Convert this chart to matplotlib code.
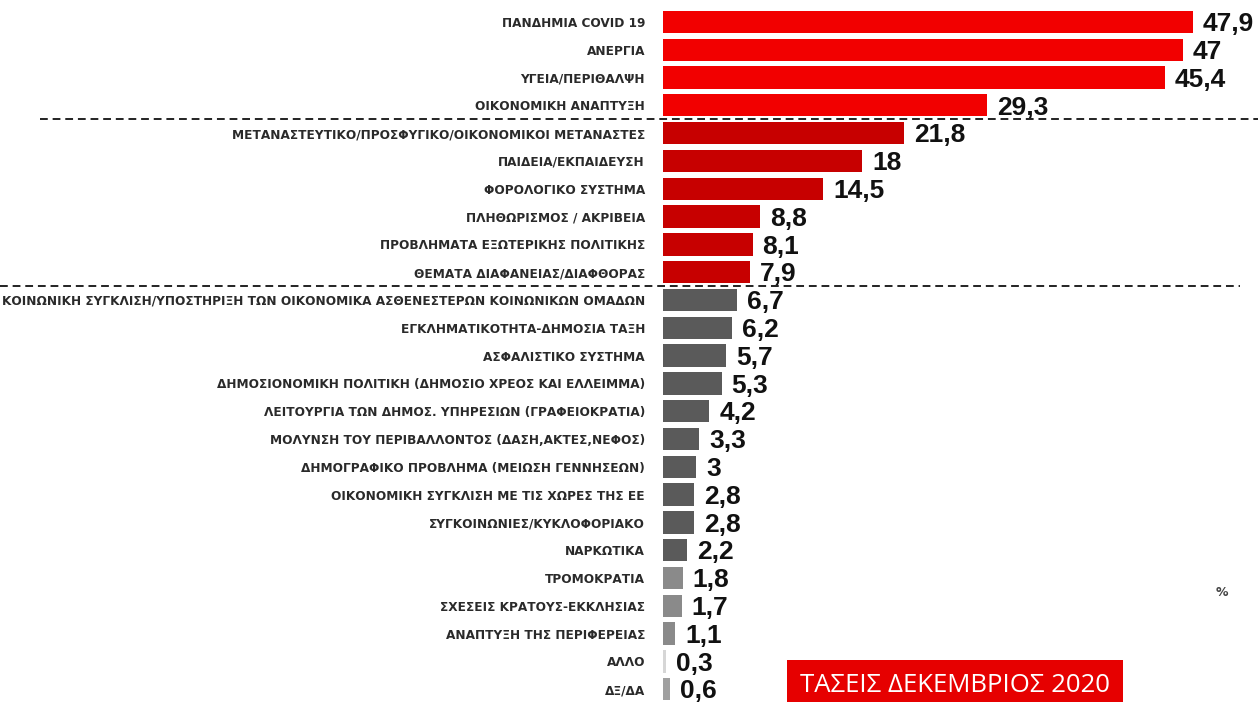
import matplotlib.pyplot as plt
import matplotlib.transforms as mtransforms
from matplotlib.lines import Line2D

topics = [
    'ΠΑΝΔΗΜΙΑ COVID 19',
    'ΑΝΕΡΓΙΑ',
    'ΥΓΕΙΑ/ΠΕΡΙΘΑΛΨΗ',
    'ΟΙΚΟΝΟΜΙΚΗ ΑΝΑΠΤΥΞΗ',
    'ΜΕΤΑΝΑΣΤΕΥΤΙΚΟ/ΠΡΟΣΦΥΓΙΚΟ/ΟΙΚΟΝΟΜΙΚΟΙ ΜΕΤΑΝΑΣΤΕΣ',
    'ΠΑΙΔΕΙΑ/ΕΚΠΑΙΔΕΥΣΗ',
    'ΦΟΡΟΛΟΓΙΚΟ ΣΥΣΤΗΜΑ',
    'ΠΛΗΘΩΡΙΣΜΟΣ / ΑΚΡΙΒΕΙΑ',
    'ΠΡΟΒΛΗΜΑΤΑ ΕΞΩΤΕΡΙΚΗΣ ΠΟΛΙΤΙΚΗΣ',
    'ΘΕΜΑΤΑ ΔΙΑΦΑΝΕΙΑΣ/ΔΙΑΦΘΟΡΑΣ',
    'ΚΟΙΝΩΝΙΚΗ ΣΥΓΚΛΙΣΗ/ΥΠΟΣΤΗΡΙΞΗ ΤΩΝ ΟΙΚΟΝΟΜΙΚΑ ΑΣΘΕΝΕΣΤΕΡΩΝ ΚΟΙΝΩΝΙΚΩΝ ΟΜΑΔΩΝ',
    'ΕΓΚΛΗΜΑΤΙΚΟΤΗΤΑ-ΔΗΜΟΣΙΑ ΤΑΞΗ',
    'ΑΣΦΑΛΙΣΤΙΚΟ ΣΥΣΤΗΜΑ',
    'ΔΗΜΟΣΙΟΝΟΜΙΚΗ ΠΟΛΙΤΙΚΗ (ΔΗΜΟΣΙΟ ΧΡΕΟΣ ΚΑΙ ΕΛΛΕΙΜΜΑ)',
    'ΛΕΙΤΟΥΡΓΙΑ ΤΩΝ ΔΗΜΟΣ. ΥΠΗΡΕΣΙΩΝ (ΓΡΑΦΕΙΟΚΡΑΤΙΑ)',
    'ΜΟΛΥΝΣΗ ΤΟΥ ΠΕΡΙΒΑΛΛΟΝΤΟΣ (ΔΑΣΗ,ΑΚΤΕΣ,ΝΕΦΟΣ)',
    'ΔΗΜΟΓΡΑΦΙΚΟ ΠΡΟΒΛΗΜΑ (ΜΕΙΩΣΗ ΓΕΝΝΗΣΕΩΝ)',
    'ΟΙΚΟΝΟΜΙΚΗ ΣΥΓΚΛΙΣΗ ΜΕ ΤΙΣ ΧΩΡΕΣ ΤΗΣ ΕΕ',
    'ΣΥΓΚΟΙΝΩΝΙΕΣ/ΚΥΚΛΟΦΟΡΙΑΚΟ',
    'ΝΑΡΚΩΤΙΚΑ',
    'ΤΡΟΜΟΚΡΑΤΙΑ',
    'ΣΧΕΣΕΙΣ ΚΡΑΤΟΥΣ-ΕΚΚΛΗΣΙΑΣ',
    'ΑΝΑΠΤΥΞΗ ΤΗΣ ΠΕΡΙΦΕΡΕΙΑΣ',
    'ΑΛΛΟ',
    'ΔΞ/ΔΑ',
]
values = [47.9, 47, 45.4, 29.3, 21.8, 18, 14.5, 8.8, 8.1, 7.9,
          6.7, 6.2, 5.7, 5.3, 4.2, 3.3, 3, 2.8, 2.8, 2.2,
          1.8, 1.7, 1.1, 0.3, 0.6]
colors = (['#f20000'] * 4 + ['#c70000'] * 6 + ['#5a5a5a'] * 10
          + ['#8a8a8a'] * 3 + ['#d6d6d6', '#a0a0a0'])
group_breaks = [3.5, 9.5]

W, H = 1258, 702
fig = plt.figure(figsize=(W / 100, H / 100), dpi=100)
ax = fig.add_axes([663 / W, 0, (W - 663) / W, 1])

pos = list(range(len(values)))
ax.barh(pos, values, height=0.8, color=colors)
ax.set_xlim(0, (W - 663) / 11.06)
ax.set_ylim(24.46, -0.79)

ax.set_yticks(pos)
ax.set_yticklabels(topics, fontsize=8.7, fontweight='bold', color='#2a2a2a',
                   family='DejaVu Sans')
ax.tick_params(axis='y', length=0, pad=13)
ax.set_xticks([])
for s in ax.spines.values():
    s.set_visible(False)

for p, v in zip(pos, values):
    txt = ('%g' % v).replace('.', ',')
    ax.text(v + 0.9, p + 0.08, txt, va='center', ha='left', fontsize=19,
            fontweight='bold', color='#111111', family='Liberation Sans')

# dashed separators between groups
tr = mtransforms.blended_transform_factory(fig.transFigure, ax.transData)
fig.add_artist(Line2D([40 / W, 1], [group_breaks[0]] * 2, transform=tr,
                      color='#222222', lw=1.4, ls=(0, (4, 2.5))))
fig.add_artist(Line2D([0, 1240 / W], [group_breaks[1]] * 2, transform=tr,
                      color='#222222', lw=1.4, ls=(0, (4, 2.5))))

fig.text(1222 / W, 1 - 592 / H, '%', fontsize=9, fontweight='bold',
         color='#444444', ha='center', va='center')

fig.text(955 / W, 1 - 685 / H, 'ΤΑΣΕΙΣ ΔΕΚΕΜΒΡΙΟΣ 2020', fontsize=18.5,
         color='white', ha='center', va='center', family='Open Sans',
         bbox=dict(boxstyle='square,pad=0.5', fc='#e60000', ec='none'))

plt.savefig('out.png', dpi=100)
